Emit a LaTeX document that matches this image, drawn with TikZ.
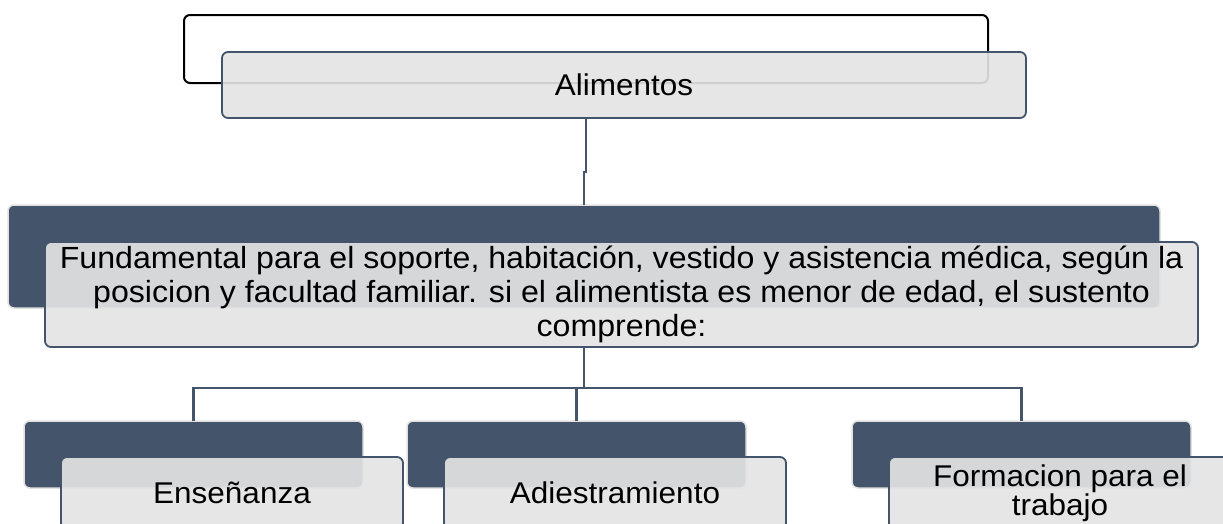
\documentclass[tikz,border=0pt]{standalone}
\usepackage{fontspec}
\setmainfont{Liberation Sans}[FakeStretch=1.05]
\usetikzlibrary{positioning}
\definecolor{slate}{HTML}{44546A}
\definecolor{paper}{HTML}{E4E4E4}
\tikzset{
    backbox/.style={
        draw=black!12, line width=1.5pt, fill=slate,
        rounded corners=6pt, inner sep=0pt, outer sep=0pt
    },
    frontbox/.style={
        draw=slate, line width=1.8pt, fill=paper,
        fill opacity=0.91, text opacity=1,
        rounded corners=6pt, inner sep=0pt, outer sep=0pt,
        align=center, font=\fontsize{30}{34}\selectfont
    },
    line/.style = {draw=slate, line width=2.6pt}
}

\begin{document}
\begin{tikzpicture}[x=1pt, y=-1pt]
    \useasboundingbox (0,0) rectangle (1223,523);

    % Top blocks
    \node[backbox, fill=white, draw=black, line width=2pt,
        minimum width=804pt, minimum height=68pt] (topback) at (586,49) {};
    \node[frontbox, minimum width=804pt, minimum height=66pt]
        (alim) at ([shift={(38,36)}]topback) {Alimentos};

    % Middle blocks
    \node[backbox, minimum width=1152pt, minimum height=103pt] (fundback) at (584,256.5) {};
    \node[frontbox, minimum width=1153pt, minimum height=105pt,
        font=\fontsize{30.6}{34}\selectfont]
        (fund) at ([shift={(37.5,38)}]fundback) {Fundamental para el soporte, habitación, vestido y asistencia médica, según la\\
        posicion y facultad familiar. si el alimentista es menor de edad, el sustento\\
        comprende:};

    % Bottom blocks
    \node[backbox, minimum width=339pt, minimum height=67pt] (ensback) at (193.5,454.5) {};
    \node[frontbox, minimum width=342pt, minimum height=72pt]
        (ens) at ([shift={(38.5,38.5)}]ensback) {Enseñanza};
    \node[backbox, minimum width=339pt, minimum height=67pt] (adiback) at (576.5,454.5) {};
    \node[frontbox, minimum width=342pt, minimum height=72pt]
        (adi) at ([shift={(38.5,38.5)}]adiback) {Adiestramiento};
    \node[backbox, minimum width=339pt, minimum height=67pt] (forback) at (1021.5,454.5) {};
    \node[frontbox, minimum width=342pt, minimum height=72pt,
        font=\fontsize{30}{29}\selectfont]
        (for) at ([shift={(38.5,38.5)}]forback) {Formacion para el\\ trabajo};

    % Lines
    \coordinate (hub) at (fundback.north |- 0,388);
    \draw[line] (topback.south |- alim.south) -- (topback.south |- 0,172) -| (fundback.north);
    \draw[line] (fundback.north |- fund.south) -- (hub);
    \draw[line] (ensback.north) |- (hub) -| (forback.north);
    \draw[line] (hub -| adiback.north) -- (adiback.north);

\end{tikzpicture}
\end{document}
